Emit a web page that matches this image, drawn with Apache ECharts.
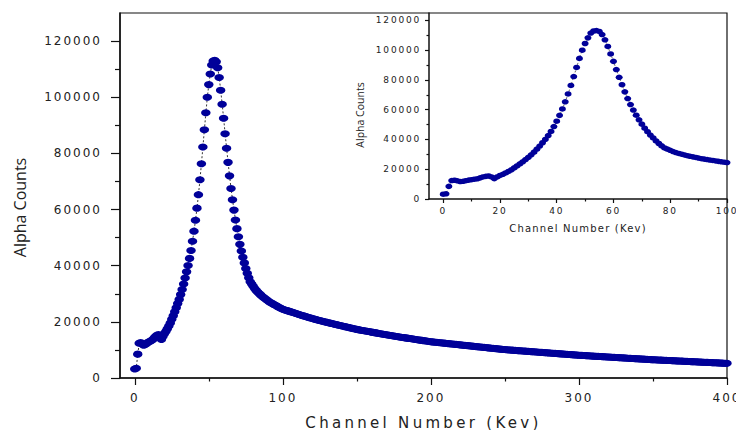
<!DOCTYPE html>
<html lang="en">

<head>
    <meta charset="UTF-8">
    <title>Alpha Counts</title>
    <script src="https://cdn.jsdelivr.net/npm/echarts@6/dist/echarts.min.js"></script>
    <style>
        * {
            margin: 0;
            padding: 0;
        }

        #main {
            width: 736px;
            height: 430px;
            background: #fff;
        }

        /* tick labels and x names are spaced out in the original */
        #main text[style*="12px"] { letter-spacing: 2px; }
        #main text[style*="9px"] { letter-spacing: 1.8px; }
        #main text[style*="15px"] { letter-spacing: 3.3px; }
        #main text[style*="10px"] { letter-spacing: 1.2px; }
    </style>
</head>

<body>
    <div id="main"></div>
    <script>
        // counts for channel 0..100
        const peakCounts = [
            3200, 3500, 8500, 12400, 12600, 12200, 11700, 11900, 12300, 12700,
            13000, 13300, 13600, 14200, 14800, 15200, 15500, 14800, 13700, 14800,
            15800, 16600, 17500, 18500, 19600, 20900, 22200, 23600, 25000, 26500,
            28000, 29700, 31500, 33500, 35600, 37800, 40100, 42600, 45400, 48700,
            52300, 56200, 60500, 65300, 70600, 76300, 82300, 88400, 94500, 100000,
            104500, 108300, 111500, 112900, 113200, 112600, 110500, 107000, 102500, 97500,
            92500, 87000, 81800, 76800, 72000, 67500, 63500, 59800, 56300, 53200,
            50300, 47600, 45200, 43000, 41000, 39000, 37300, 35700, 34300, 33500,
            32700, 31900, 31200, 30600, 30100, 29600, 29100, 28700, 28300, 27900,
            27500, 27100, 26800, 26500, 26200, 25900, 25600, 25300, 25000, 24750,
            24500
        ];
        // counts for channel 101..400
        const tailCounts = [
            24330, 24160, 23990, 23820, 23650, 23480, 23310, 23140, 22970, 22800,
            22630, 22460, 22290, 22120, 21960, 21800, 21640, 21490, 21340, 21190,
            21040, 20890, 20740, 20600, 20460, 20320, 20190, 20060, 19930, 19800,
            19670, 19540, 19410, 19290, 19160, 19040, 18910, 18790, 18670, 18540,
            18420, 18300, 18170, 18050, 17930, 17800, 17680, 17560, 17440, 17320,
            17220, 17120, 17020, 16920, 16820, 16720, 16630, 16530, 16440, 16340,
            16250, 16150, 16060, 15970, 15870, 15780, 15690, 15600, 15500, 15410,
            15320, 15230, 15140, 15050, 14960, 14850, 14770, 14690, 14610, 14530,
            14450, 14370, 14280, 14200, 14120, 14040, 13960, 13880, 13800, 13720,
            13640, 13560, 13480, 13400, 13320, 13240, 13160, 13080, 13000, 12920,
            12860, 12810, 12750, 12700, 12640, 12580, 12530, 12470, 12420, 12360,
            12300, 12250, 12190, 12140, 12080, 12020, 11970, 11910, 11860, 11800,
            11740, 11690, 11630, 11580, 11520, 11460, 11410, 11350, 11300, 11240,
            11180, 11130, 11070, 11020, 10960, 10900, 10850, 10790, 10740, 10680,
            10620, 10570, 10510, 10460, 10400, 10340, 10290, 10230, 10180, 10120,
            10080, 10040, 10000, 9960, 9920, 9880, 9840, 9800, 9760, 9720,
            9680, 9640, 9600, 9560, 9520, 9480, 9440, 9400, 9360, 9320,
            9280, 9240, 9200, 9160, 9120, 9080, 9040, 9000, 8960, 8920,
            8880, 8840, 8800, 8760, 8720, 8680, 8640, 8600, 8560, 8520,
            8480, 8440, 8400, 8360, 8320, 8280, 8240, 8200, 8160, 8120,
            8090, 8060, 8020, 7990, 7960, 7930, 7900, 7860, 7830, 7800,
            7770, 7740, 7700, 7670, 7640, 7610, 7580, 7540, 7510, 7480,
            7450, 7420, 7380, 7350, 7320, 7290, 7260, 7220, 7190, 7160,
            7130, 7100, 7060, 7030, 7000, 6970, 6940, 6900, 6870, 6840,
            6810, 6780, 6740, 6710, 6680, 6650, 6620, 6580, 6550, 6520,
            6490, 6470, 6440, 6420, 6390, 6360, 6340, 6310, 6290, 6260,
            6230, 6210, 6180, 6160, 6130, 6100, 6080, 6050, 6030, 6000,
            5970, 5950, 5920, 5900, 5870, 5840, 5820, 5790, 5770, 5740,
            5710, 5690, 5660, 5640, 5610, 5580, 5560, 5530, 5510, 5480,
            5450, 5430, 5400, 5380, 5350, 5320, 5300, 5270, 5250, 5220
        ];

        const mainXTicks = [0, 100, 200, 300, 400];
        const mainXMinor = [50, 150, 250, 350];
        const insetXTicks = [0, 20, 40, 60, 80, 100];
        const insetXMinor = [10, 30, 50, 70, 90];
        const yTicks = [0, 20000, 40000, 60000, 80000, 100000, 120000];
        const yMinor = [10000, 30000, 50000, 70000, 90000, 110000];

        const allCounts = peakCounts.concat(tailCounts);
        const mainData = allCounts.map((v, i) => [i, v]);
        const insetData = peakCounts.map((v, i) => [i, v]);

        let myChart = echarts.init(document.getElementById('main'), null, { renderer: 'svg' });

        const black = '#111';
        const font = 'DejaVu Sans';
        const plain = v => String(v); // no thousands separator

        function xAxisMajor(grid, min, max, ticks, size, tickLen, margin, name, nameSize, nameGap) {
            return {
                gridIndex: grid, type: 'value', min: min, max: max, position: 'bottom',
                axisLine: { onZero: false, lineStyle: { color: black, width: 1.5 } },
                axisTick: { customValues: ticks, length: tickLen, lineStyle: { color: black, width: 1.2 } },
                axisLabel: { customValues: ticks, formatter: plain, fontSize: size, fontFamily: font, color: '#222', margin: margin },
                splitLine: { show: false },
                name: name, nameLocation: 'middle', nameGap: nameGap,
                nameTextStyle: { fontSize: nameSize, fontFamily: font, color: '#222' }
            };
        }

        function minorAxis(grid, min, max, ticks, tickLen, isY) {
            return {
                gridIndex: grid, type: 'value', min: min, max: max, position: isY ? 'left' : 'bottom',
                axisLine: { show: false, onZero: false },
                axisTick: { customValues: ticks, length: tickLen, lineStyle: { color: black, width: 1.2 } },
                axisLabel: { show: false },
                splitLine: { show: false }
            };
        }

        function yAxisMajor(grid, max, size, tickLen, margin, name, nameSize, nameGap, pad) {
            return {
                gridIndex: grid, type: 'value', min: 0, max: max, position: 'left',
                axisLine: { onZero: false, lineStyle: { color: black, width: 1.5 } },
                axisTick: { customValues: yTicks, length: tickLen, lineStyle: { color: black, width: 1.2 } },
                axisLabel: { customValues: yTicks, formatter: plain, fontSize: size, fontFamily: font, color: '#222', margin: margin },
                splitLine: { show: false },
                name: name, nameLocation: 'middle', nameGap: nameGap,
                nameTextStyle: { fontSize: nameSize, fontFamily: 'Open Sans', color: '#222', padding: pad }
            };
        }

        let option = {
            animation: false,
            backgroundColor: '#fff',
            grid: [
                { left: 120, right: 9, top: 13, bottom: 52, outerBoundsMode: 'none', containLabel: false,
                  show: true, borderColor: black, borderWidth: 1.2 },
                { left: 429, right: 9, top: 13, bottom: 231, outerBoundsMode: 'none', containLabel: false }
            ],
            xAxis: [
                xAxisMajor(0, -10, 400, mainXTicks, 12, 7, 14, 'Channel Number (Kev)', 15, 37),
                minorAxis(0, -10, 400, mainXMinor, 3.5, false),
                xAxisMajor(1, -5, 100, insetXTicks, 9, 4, 7, 'Channel Number (Kev)', 10, 24),
                minorAxis(1, -5, 100, insetXMinor, 2.5, false)
            ],
            yAxis: [
                yAxisMajor(0, 130000, 12, 9, 18, 'Alpha Counts', 16, 92, [0, 24, 0, 0]),
                minorAxis(0, 0, 130000, yMinor, 5, true),
                yAxisMajor(1, 125000, 9, 4, 8, 'Alpha Counts', 10.5, 64, [0, 18, 0, 0]),
                minorAxis(1, 0, 125000, yMinor, 2.5, true)
            ],
            series: [
                {
                    type: 'line', xAxisIndex: 0, yAxisIndex: 0, data: mainData,
                    symbol: 'circle', symbolSize: [9.5, 7], showAllSymbol: true,
                    itemStyle: { color: '#000099' },
                    lineStyle: { color: '#000', width: 0.8, type: [2, 2] }
                },
                {
                    type: 'line', xAxisIndex: 2, yAxisIndex: 2, data: insetData,
                    symbol: 'circle', symbolSize: [7, 5.5], showAllSymbol: true,
                    itemStyle: { color: '#000099' },
                    lineStyle: { color: '#000', width: 0.6, type: [2, 2] }
                }
            ]
        };

        myChart.setOption(option, true);
    </script>
</body>

</html>
